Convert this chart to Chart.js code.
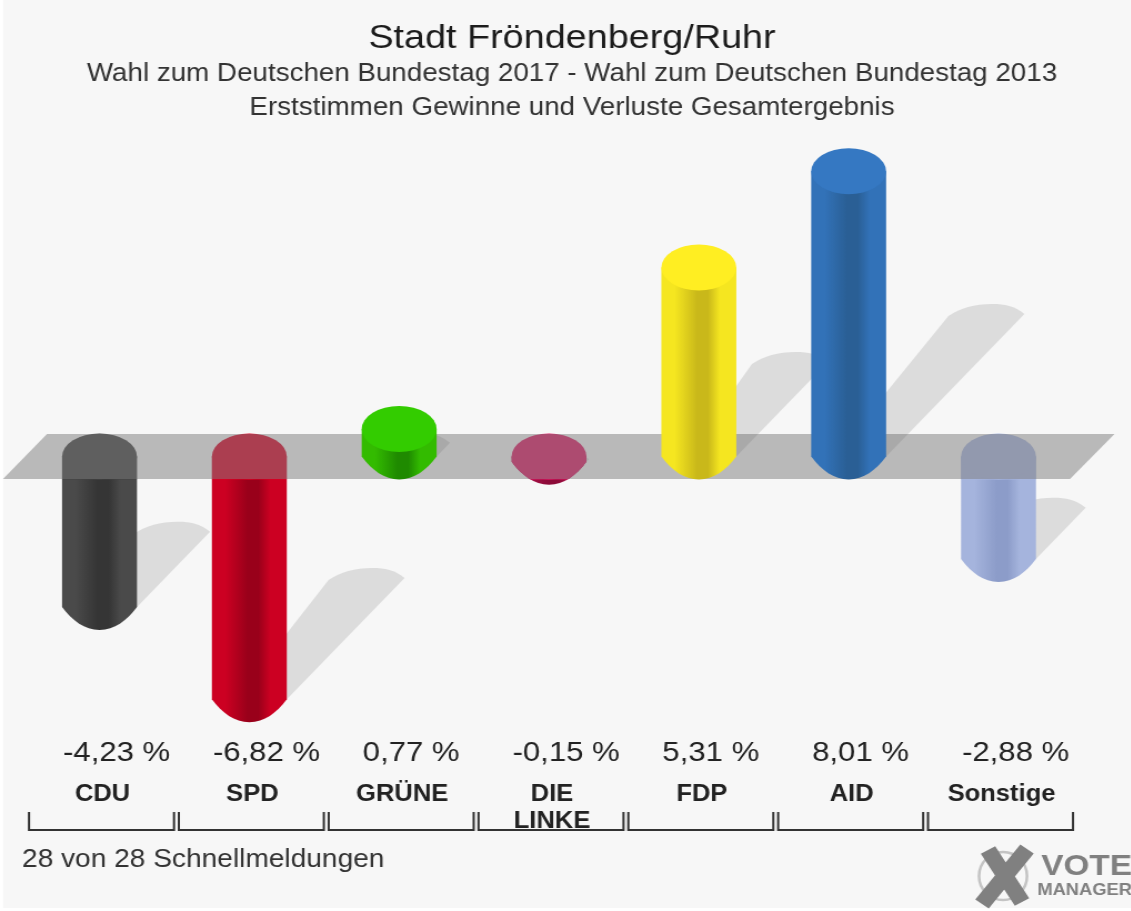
<!DOCTYPE html>
<html>
<head>
<meta charset="utf-8">
<title>Stadt Fröndenberg/Ruhr</title>
<script src="https://cdn.jsdelivr.net/npm/chart.js@4/dist/chart.umd.min.js"></script>
<style>
    html, body { margin: 0; background: #ffffff; overflow: hidden; }
    #wrap { width: 1131px; height: 911px; overflow: hidden; }
    /* the original picture is stretched sideways, text and bars alike */
    canvas { display: block; transform-origin: 0 0; transform: scaleX(1.11068); filter: blur(0.5px); }
</style>
</head>
<body>
<div id="wrap"><canvas id="resultChart" width="1030" height="911"></canvas></div>
<script>
const parties = ["CDU", "SPD", "GRÜNE", ["DIE", "LINKE"], "FDP", "AID", "Sonstige"];
const changes = [-4.23, -6.82, 0.77, -0.15, 5.31, 8.01, -2.88];

const edgeColors = ["#4a4a4a", "#cc0022", "#33bb00", "#b0104a", "#f5e620", "#3272b8", "#a5b4dd"];
const midColors = ["#353535", "#99001a", "#1f8a00", "#8c0a38", "#c9b81a", "#2a5f95", "#8c9cc9"];
const lidColors = ["#434343", "#db0025", "#33cc00", "#de1a65", "#ffee22", "#3578c2", "#a8b6e0"];

const sx = 1.11068;
const lidH = 23;

// screen px -> canvas px, horizontally
function X(v) {
    return v / sx;
}

// bottom of a cylinder, slightly pointed like in the original
function bodyPath(ctx, x, hw, top, bottom) {
    ctx.beginPath();
    ctx.moveTo(x - hw, top);
    ctx.lineTo(x + hw, top);
    ctx.lineTo(x + hw, bottom);
    ctx.bezierCurveTo(x + hw * 0.72, bottom + lidH * 0.6, x + hw * 0.4, bottom + lidH, x, bottom + lidH);
    ctx.bezierCurveTo(x - hw * 0.4, bottom + lidH, x - hw * 0.72, bottom + lidH * 0.6, x - hw, bottom);
    ctx.closePath();
}

function drawCylinder(ctx, i, bar, top, bottom) {
    const hw = bar.width / 2;
    const g = ctx.createLinearGradient(bar.x - hw, 0, bar.x + hw, 0);
    g.addColorStop(0, edgeColors[i]);
    g.addColorStop(0.18, edgeColors[i]);
    g.addColorStop(0.48, midColors[i]);
    g.addColorStop(0.62, midColors[i]);
    g.addColorStop(0.78, edgeColors[i]);
    g.addColorStop(1, edgeColors[i]);
    ctx.fillStyle = g;
    bodyPath(ctx, bar.x, hw, top, bottom);
    ctx.fill();
    if (changes[i] < 0) {
        // under the band the whole front looks flat
        ctx.save();
        bodyPath(ctx, bar.x, hw, top, bottom);
        ctx.clip();
        ctx.fillStyle = lidColors[i];
        ctx.fillRect(bar.x - hw, top, hw * 2, lidH);
        ctx.restore();
    }
    ctx.fillStyle = lidColors[i];
    ctx.beginPath();
    ctx.ellipse(bar.x, top, hw, lidH, 0, 0, Math.PI * 2);
    ctx.fill();
}

function drawShadow(ctx, bar, baseY, h) {
    const right = bar.x + bar.width / 2;
    const tipX = right + X(h * 0.485);
    const tipY = baseY - h * 0.5;
    ctx.fillStyle = "rgba(100,100,100,0.18)";
    ctx.beginPath();
    ctx.moveTo(right, baseY);
    ctx.lineTo(tipX, tipY);
    ctx.bezierCurveTo(tipX - X(10), tipY - 8, tipX - X(20), tipY - 10, tipX - X(32), tipY - 10);
    ctx.bezierCurveTo(tipX - X(50), tipY - 10, tipX - X(64), tipY - 6, tipX - X(76), tipY + 2);
    ctx.lineTo(bar.x, baseY - 18);
    ctx.closePath();
    ctx.fill();
}

const cylinderPlugin = {
    id: "cylinders",
    beforeDatasetsDraw(chart) {
        const ctx = chart.ctx;
        const bars = chart.getDatasetMeta(0).data;
        const zero = chart.scales.y.getPixelForValue(0);
        ctx.save();
        // negative ones lie under the grey band
        bars.forEach((bar, i) => {
            if (changes[i] < 0) {
                drawShadow(ctx, bar, bar.y, bar.y - zero);
            }
        });
        bars.forEach((bar, i) => {
            if (changes[i] < 0) {
                drawCylinder(ctx, i, bar, zero, bar.y);
            }
        });
        // band around the zero level, 45px deep
        ctx.fillStyle = "rgba(123,123,123,0.5)";
        ctx.beginPath();
        ctx.moveTo(X(47), zero - 22.5);
        ctx.lineTo(X(1114.5), zero - 22.5);
        ctx.lineTo(X(1070), zero + 22.5);
        ctx.lineTo(X(3), zero + 22.5);
        ctx.closePath();
        ctx.fill();
        bars.forEach((bar, i) => {
            if (changes[i] >= 0) {
                drawShadow(ctx, bar, zero, zero - bar.y);
            }
        });
        bars.forEach((bar, i) => {
            if (changes[i] >= 0) {
                drawCylinder(ctx, i, bar, bar.y, zero);
            }
        });
        ctx.restore();
    },
    afterDraw(chart) {
        const ctx = chart.ctx;
        const bars = chart.getDatasetMeta(0).data;
        ctx.save();

        // values
        ctx.fillStyle = "#222222";
        ctx.font = "28px 'Liberation Sans'";
        ctx.textBaseline = "middle";
        bars.forEach((bar, i) => {
            const txt = changes[i].toFixed(2).replace(".", ",") + " %";
            ctx.fillText(txt, bar.x - bar.width / 2 + X(1), 753);
        });

        // brackets under the categories
        ctx.strokeStyle = "#333333";
        ctx.lineWidth = 2;
        bars.forEach((bar) => {
            ctx.beginPath();
            ctx.moveTo(bar.x - X(70.5), 812);
            ctx.lineTo(bar.x - X(70.5), 830);
            ctx.lineTo(bar.x + X(74.5), 830);
            ctx.lineTo(bar.x + X(74.5), 812);
            ctx.stroke();
        });

        // footer
        ctx.fillStyle = "#333333";
        ctx.font = "25.3px 'Liberation Sans'";
        ctx.fillText("28 von 28 Schnellmeldungen", X(22), 860);

        // logo
        ctx.strokeStyle = "#c4c4c4";
        ctx.lineWidth = 2.5;
        ctx.beginPath();
        ctx.ellipse(X(1003), 876, X(24), 24, 0, 0, Math.PI * 2);
        ctx.stroke();
        ctx.strokeStyle = "#808080";
        ctx.lineWidth = 15;
        ctx.beginPath();
        ctx.moveTo(X(988), 850);
        ctx.lineTo(X(1022), 902);
        ctx.moveTo(X(1027), 849);
        ctx.lineTo(X(982), 904);
        ctx.stroke();
        ctx.fillStyle = "#808080";
        ctx.font = "bold 30px 'Liberation Sans'";
        ctx.textAlign = "right";
        ctx.fillText("VOTE", X(1132), 867);
        ctx.font = "bold 16.5px 'Liberation Sans'";
        ctx.fillText("MANAGER", X(1132), 890);
        ctx.restore();
    },
};

const pageBackground = {
    id: "pageBackground",
    beforeDraw(chart) {
        const ctx = chart.ctx;
        ctx.save();
        ctx.fillStyle = "#f7f7f7";
        ctx.fillRect(X(3), 0, chart.width, chart.height - 3);
        ctx.restore();
    },
};

let resultCtx = document.getElementById("resultChart").getContext("2d");
let resultChart = new Chart(resultCtx, {
    type: "bar",
    data: {
        labels: parties,
        datasets: [
            {
                data: changes,
                backgroundColor: "transparent",
                borderWidth: 0,
                categoryPercentage: 1,
                barPercentage: 0.5,
            },
        ],
    },
    plugins: [pageBackground, cylinderPlugin],
    options: {
        responsive: false,
        animation: false,
        layout: {
            padding: { left: X(24.6), right: X(24.6), top: 0, bottom: 0 },
        },
        plugins: {
            legend: { display: false },
            tooltip: { enabled: false },
            title: {
                display: true,
                text: "Stadt Fröndenberg/Ruhr",
                color: "#1c1c1c",
                font: { family: "'Liberation Sans'", size: 34, weight: "normal", lineHeight: 1.093 },
                padding: { top: 20, bottom: 0 },
            },
            subtitle: {
                display: true,
                text: [
                    "Wahl zum Deutschen Bundestag 2017 - Wahl zum Deutschen Bundestag 2013",
                    "Erststimmen Gewinne und Verluste Gesamtergebnis",
                ],
                color: "#333333",
                font: { family: "'Liberation Sans'", size: 25, weight: "normal", lineHeight: 1.36 },
                padding: { top: 0, bottom: 10.94 },
            },
        },
        scales: {
            x: {
                grid: { display: false, drawTicks: false },
                border: { display: false },
                afterFit(scale) {
                    scale.height = 169.7;
                },
                ticks: {
                    color: "#222222",
                    font: { family: "'Liberation Sans'", size: 23, weight: "bold", lineHeight: 1.17 },
                    padding: 39.7,
                    labelOffset: X(3),
                    maxRotation: 0,
                    autoSkip: false,
                },
            },
            y: {
                display: false,
                min: -8,
                max: 9,
            },
            // empty axis, only keeps the plot off the right side so the titles stay centred
            spacer: {
                position: "right",
                min: 0,
                max: 1,
                grid: { display: false, drawTicks: false },
                border: { display: false },
                ticks: { display: false },
                afterFit(scale) {
                    scale.width = X(46);
                },
            },
        },
    },
});
</script>
</body>
</html>
